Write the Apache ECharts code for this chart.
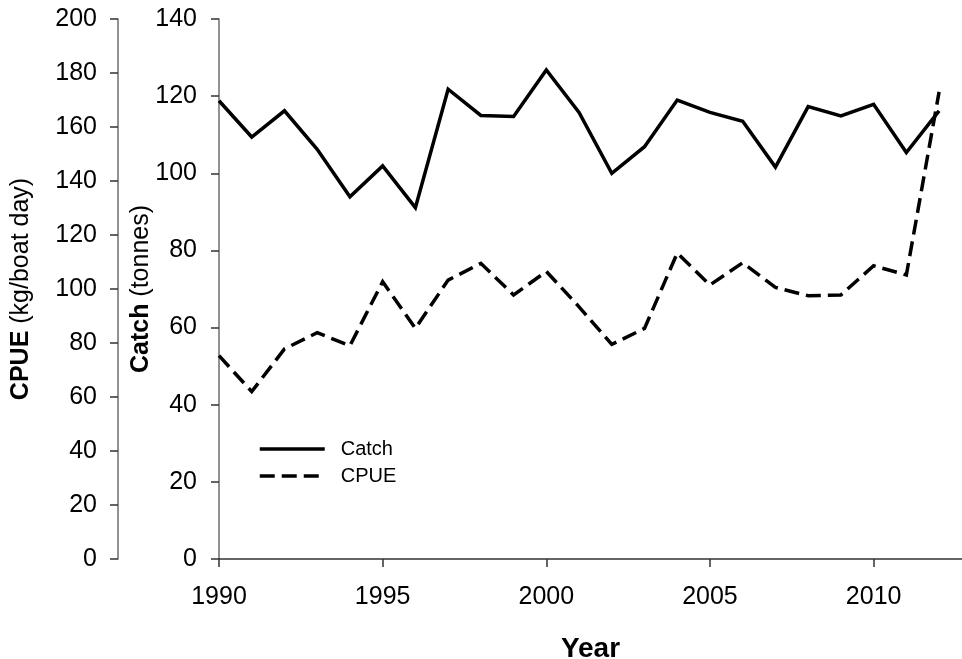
<!DOCTYPE html>
<html>
<head>
<meta charset="utf-8">
<script src="https://cdn.jsdelivr.net/npm/echarts@6/dist/echarts.min.js"></script>
<style>
  html, body { margin: 0; padding: 0; background: #fff; }
  #chart { width: 962px; height: 659px; }
</style>
</head>
<body>
<div id="chart"></div>
<script>
// Annual catch (tonnes) and catch per unit effort (kg/boat day), 1990-2012
const years = [1990, 1991, 1992, 1993, 1994, 1995, 1996, 1997, 1998, 1999, 2000, 2001,
               2002, 2003, 2004, 2005, 2006, 2007, 2008, 2009, 2010, 2011, 2012];
const catchTonnes = [118.8, 109.4, 116.2, 106.2, 93.9, 101.9, 91.1, 121.8, 115.0, 114.7, 126.8, 115.8,
                     100.0, 106.9, 119.0, 115.8, 113.5, 101.6, 117.3, 114.9, 117.9, 105.4, 116.2];
const cpue = [75.3, 62.0, 77.8, 83.8, 79.0, 102.7, 85.4, 103.3, 109.5, 97.8, 106.5, 93.4,
              79.5, 85.4, 113.3, 101.5, 109.7, 100.6, 97.5, 97.8, 108.6, 105.2, 173.0];
const yearTicks = [1990, 1995, 2000, 2005, 2010];

const FONT = 'Liberation Sans, Arial, sans-serif';
const pairs = (vals) => years.map((y, i) => [y, vals[i]]);

const chart = echarts.init(document.getElementById('chart'), null, { renderer: 'canvas' });

chart.setOption({
  animation: false,
  backgroundColor: '#ffffff',
  textStyle: { fontFamily: FONT, color: '#000' },
  grid: { left: 219, top: 19, right: 0, bottom: 100, containLabel: false, outerBoundsMode: 'none' },
  legend: {
    orient: 'vertical',
    left: 258,
    top: 439,
    padding: 0,
    itemWidth: 65,
    itemHeight: 14,
    itemGap: 7,
    selectedMode: false,
    textStyle: { fontFamily: FONT, fontSize: 20, color: '#000', padding: [0, 0, 0, 11] },
    itemStyle: { opacity: 0 },
    lineStyle: { width: 3.5 },
    data: ['Catch', 'CPUE']
  },
  xAxis: {
    type: 'value',
    min: 1990,
    max: 2012.7,
    interval: 5,
    name: 'Year',
    nameLocation: 'middle',
    nameGap: 76,
    nameMoveOverlap: false,
    nameTextStyle: { fontFamily: FONT, fontSize: 28, fontWeight: 'bold', color: '#000' },
    axisLine: { show: true, onZero: false, lineStyle: { color: '#333', width: 1.5 } },
    axisTick: { show: true, inside: false, length: 8, customValues: yearTicks,
                lineStyle: { color: '#333', width: 1.5 } },
    axisLabel: { fontFamily: FONT, fontSize: 25, color: '#000', margin: 26,
                 customValues: yearTicks, formatter: (v) => String(v) },
    splitLine: { show: false }
  },
  yAxis: [
    {
      type: 'value',
      position: 'left',
      min: 0,
      max: 140,
      interval: 20,
      name: '{b|Catch} (tonnes)',
      nameLocation: 'middle',
      nameRotate: 90,
      nameGap: 65,
      nameMoveOverlap: false,
      nameTextStyle: { fontFamily: FONT, fontSize: 25, color: '#000',
                       rich: { b: { fontFamily: FONT, fontSize: 25, fontWeight: 'bold', color: '#000' } } },
      axisLine: { show: true, lineStyle: { color: '#6e6e6e', width: 1.5 } },
      axisTick: { show: true, inside: false, length: 8, lineStyle: { color: '#333', width: 1.5 } },
      axisLabel: { fontFamily: FONT, fontSize: 25, color: '#000', margin: 22 },
      splitLine: { show: false }
    },
    {
      type: 'value',
      position: 'left',
      offset: 101,
      min: 0,
      max: 200,
      interval: 20,
      name: '{b|CPUE} (kg/boat day)',
      nameLocation: 'middle',
      nameRotate: 90,
      nameGap: 84,
      nameMoveOverlap: false,
      nameTextStyle: { fontFamily: FONT, fontSize: 25, color: '#000',
                       rich: { b: { fontFamily: FONT, fontSize: 25, fontWeight: 'bold', color: '#000' } } },
      axisLine: { show: true, lineStyle: { color: '#6e6e6e', width: 1.5 } },
      axisTick: { show: true, inside: false, length: 8, lineStyle: { color: '#333', width: 1.5 } },
      axisLabel: { fontFamily: FONT, fontSize: 25, color: '#000', margin: 21 },
      splitLine: { show: false }
    }
  ],
  series: [
    {
      name: 'Catch',
      type: 'line',
      yAxisIndex: 0,
      data: pairs(catchTonnes),
      symbol: 'none',
      showSymbol: false,
      lineStyle: { color: '#000', width: 3.5, type: 'solid', join: 'miter' },
      itemStyle: { color: '#000' },
      emphasis: { disabled: true }
    },
    {
      name: 'CPUE',
      type: 'line',
      yAxisIndex: 1,
      data: pairs(cpue),
      symbol: 'none',
      showSymbol: false,
      lineStyle: { color: '#000', width: 3.5, type: [15, 7], join: 'miter' },
      itemStyle: { color: '#000' },
      emphasis: { disabled: true }
    }
  ]
});
</script>
</body>
</html>
